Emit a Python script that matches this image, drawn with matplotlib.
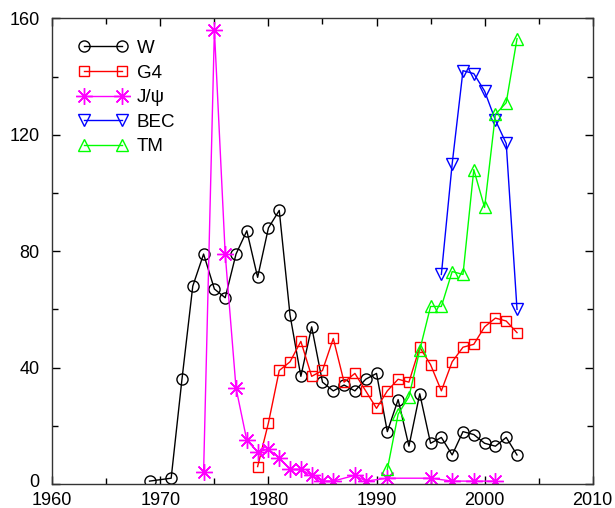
import matplotlib
matplotlib.use("Agg")
import matplotlib.pyplot as plt
from matplotlib.ticker import MultipleLocator
from matplotlib.transforms import ScaledTranslation

plt.rcParams['font.family'] = ['Liberation Sans', 'DejaVu Sans']

w_years = [1969, 1971, 1972, 1973, 1974, 1975, 1976, 1977, 1978, 1979, 1980, 1981,
           1982, 1983, 1984, 1985, 1986, 1987, 1988, 1989, 1990, 1991, 1992, 1993,
           1994, 1995, 1996, 1997, 1998, 1999, 2000, 2001, 2002, 2003]
w_vals = [1, 2, 36, 68, 79, 67, 64, 79, 87, 71, 88, 94,
          58, 37, 54, 35, 32, 34, 32, 36, 38, 18, 29, 13,
          31, 14, 16, 10, 18, 17, 14, 13, 16, 10]

g4_years = [1979, 1980, 1981, 1982, 1983, 1984, 1985, 1986, 1987, 1988, 1989, 1990,
            1991, 1992, 1993, 1994, 1995, 1996, 1997, 1998, 1999, 2000, 2001, 2002, 2003]
g4_vals = [6, 21, 39, 42, 49, 37, 39, 50, 35, 38, 32, 26,
           32, 36, 35, 47, 41, 32, 42, 47, 48, 54, 57, 56, 52]

jpsi_years = [1974, 1975, 1976, 1977, 1978, 1979, 1980, 1981, 1982, 1983, 1984,
              1985, 1986, 1988, 1989, 1991, 1995, 1997, 1999, 2001]
jpsi_vals = [4, 156, 79, 33, 15, 11, 12, 9, 5, 5, 3,
             1, 1, 3, 1, 2, 2, 1, 1, 1]

bec_years = [1996, 1997, 1998, 1999, 2000, 2001, 2002, 2003]
bec_vals = [72, 110, 142, 141, 135, 125, 117, 60]

tm_years = [1991, 1992, 1993, 1994, 1995, 1996, 1997, 1998, 1999, 2000, 2001, 2002, 2003]
tm_vals = [5, 24, 30, 46, 61, 61, 73, 72, 108, 95, 127, 131, 153]

y_ticks = [0, 40, 80, 120, 160]
x_ticks = [1960, 1970, 1980, 1990, 2000, 2010]

fig = plt.figure(figsize=(6.15, 5.08), dpi=100)
ax = fig.add_axes([0.085, 0.0472, 0.8787, 0.9168])

lw = 1.0
ax.plot(w_years, w_vals, color='black', lw=lw, marker='o', ms=8, mfc='none', mew=1.0, label='W')
ax.plot(g4_years, g4_vals, color='#ff0000', lw=lw, marker='s', ms=7, mfc='none', mew=1.0, label='G4')
ax.plot(jpsi_years, jpsi_vals, color='#ff00ff', lw=lw, marker=(8, 2, 0), ms=12, mfc='none', mew=1.0, label='J/ψ')
ax.plot(bec_years, bec_vals, color='#0000ff', lw=lw, marker='v', ms=9, mfc='none', mew=1.0, label='BEC')
ax.plot(tm_years, tm_vals, color='#00ff00', lw=lw, marker='^', ms=9, mfc='none', mew=1.0, label='TM')

ax.set_xlim(1960, 2010)
ax.set_ylim(0, 160)
ax.set_xticks(x_ticks)
ax.set_yticks(y_ticks)
ax.xaxis.set_minor_locator(MultipleLocator(5))
ax.yaxis.set_minor_locator(MultipleLocator(20))
ax.tick_params(which='both', direction='in', top=True, right=True, labelsize=13, width=1.0)
ax.tick_params(which='major', length=6)
ax.tick_params(which='minor', length=4)
ax.tick_params(axis='y', which='major', pad=9)
ax.tick_params(axis='x', which='major', pad=6)
for s in ax.spines.values():
    s.set_linewidth(1.0)
    s.set_color('#333333')

# nudge the "0" label up slightly so it does not touch "1960"
t0 = ax.yaxis.get_major_ticks()[0].label1
t0.set_transform(t0.get_transform() + ScaledTranslation(0, 2.5 / 72, fig.dpi_scale_trans))

leg = ax.legend(loc='upper left', bbox_to_anchor=(0.035, 0.97), frameon=False, numpoints=2,
                handlelength=2.6, fontsize=13.5, labelspacing=0.4, handletextpad=0.5,
                borderaxespad=0)

fig.savefig('out.png', dpi=100)
